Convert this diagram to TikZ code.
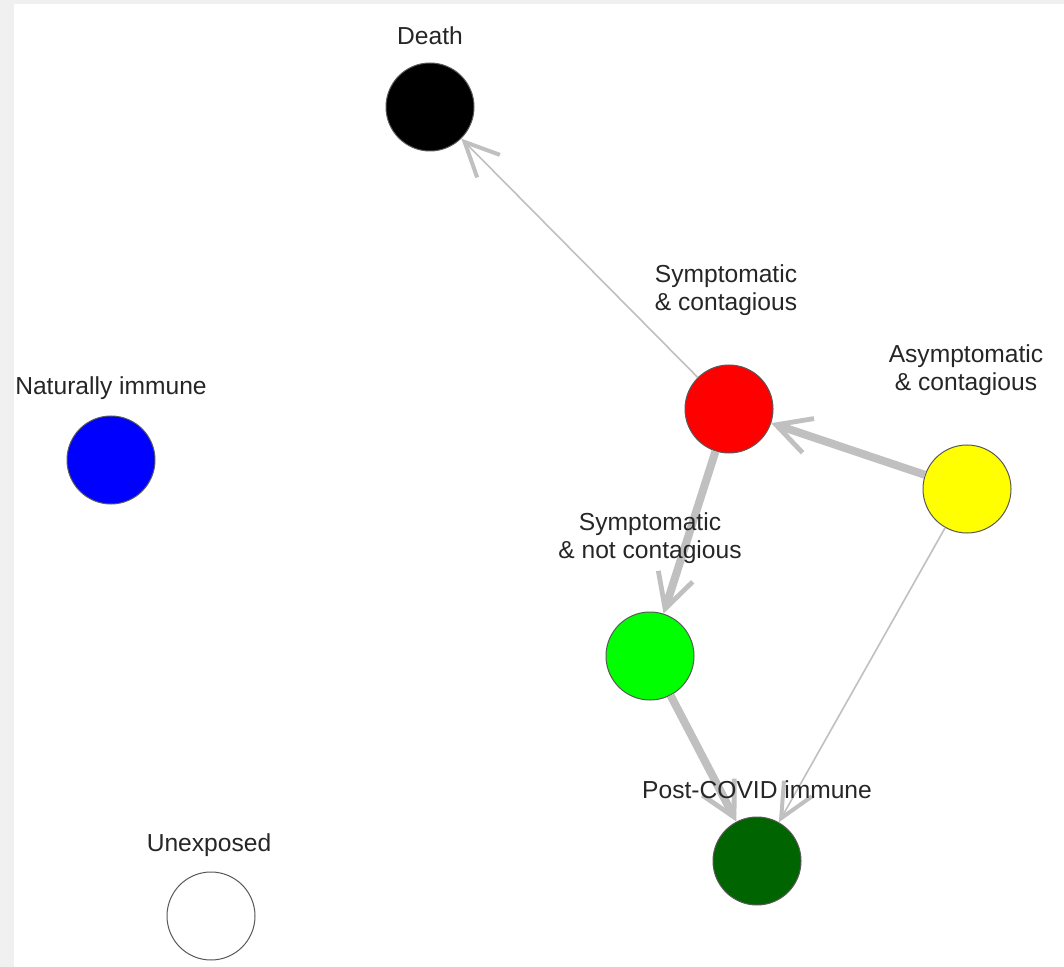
\documentclass[tikz,border=0pt]{standalone}
\usepackage{fontspec}
\setmainfont{Liberation Sans}
\usetikzlibrary{arrows.meta}
\definecolor{arete}{RGB}{192,192,192}
\definecolor{cadre}{RGB}{240,240,240}
\definecolor{rouge}{RGB}{255,0,0}
\definecolor{jaune}{RGB}{255,255,0}
\definecolor{vert}{RGB}{0,255,0}
\definecolor{bleu}{RGB}{0,0,255}
\definecolor{vertfonce}{RGB}{0,100,0}

\begin{document}
\begin{tikzpicture}[
    x = 0.5pt, y = -0.5pt,
    etat/.style = {circle, draw=black!65, line width=0.5pt, minimum size=44pt, inner sep=0pt},
    lbl/.style = {align=center, text=black!85, inner sep=0pt, font=\fontsize{12.3}{13.8}\selectfont},
    fine/.style = {draw=arete, line width=0.8pt, -{Straight Barb[length=17pt, width=16pt, line width=2pt]}},
    epaisse/.style = {draw=arete, line width=4pt, -{Straight Barb[length=17pt, width=18pt, line width=2.4pt]}},
]
    \fill[cadre] (0,0) rectangle (1064,967);
    \fill[white] (14,4) rectangle (1064,967);
    % Les états, dans l'ordre : nom / x / y / couleur
    \foreach \n/\x/\y/\c in {D/430/107/black, S/729/409/rouge, A/967/489/jaune,
                             N/650/656/vert, P/757/861/vertfonce,
                             I/111/460/bleu, U/211/916/white}
        \node[etat, fill=\c] (\n) at (\x,\y) {};
    % Les transitions
    \draw[fine]    (S) -- (D);
    \draw[epaisse] (A) -- (S);
    \draw[epaisse] (S) -- (N);
    \draw[epaisse] (N) -- (P);
    \draw[fine]    (A) -- (P);
    % Étiquettes, par-dessus les arêtes
    \foreach \n/\x/\y/\t in {D/430/36/{Death},
                             S/726/290/{Symptomatic\\ \& contagious},
                             A/966/370/{Asymptomatic\\ \& contagious},
                             N/650/538/{Symptomatic\\ \& not contagious},
                             P/757/790/{Post-COVID immune},
                             I/111/388/{Naturally immune},
                             U/209/845/{Unexposed}}
        \node[lbl] (\n-l) at (\x,\y) {\t};
\end{tikzpicture}
\end{document}
